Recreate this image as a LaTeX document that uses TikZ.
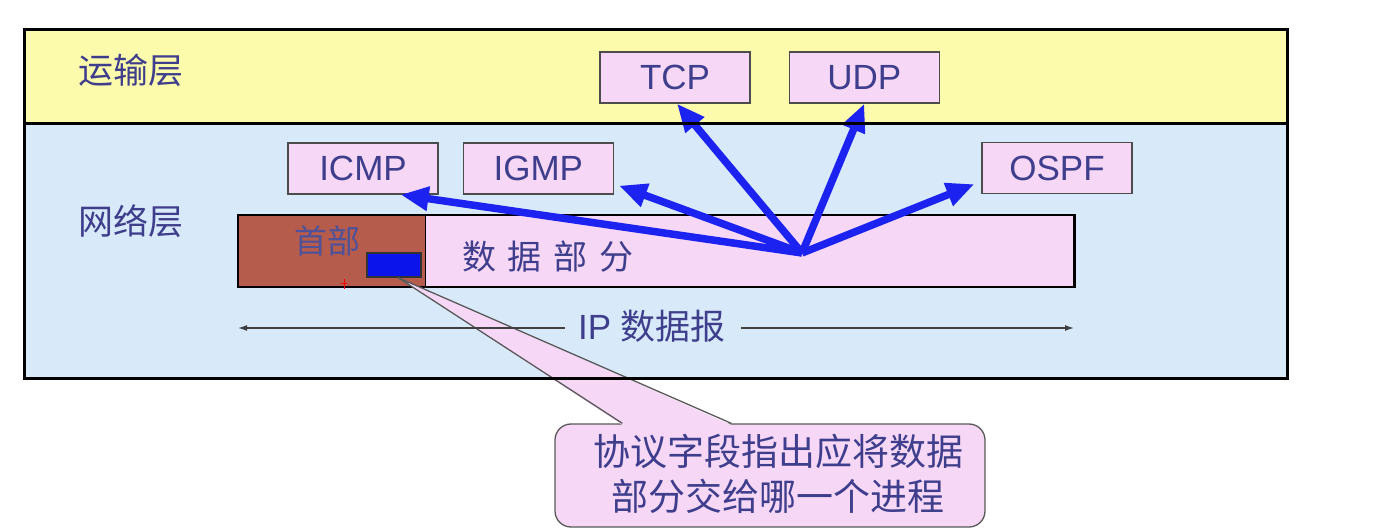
\documentclass[tikz,border=0pt]{standalone}
\usepackage{fontspec}
\setmainfont{Liberation Sans}
\newfontfamily\cjkfont{Noto Sans CJK SC}
\usepackage{xcolor}
\usetikzlibrary{arrows.meta, positioning}

\definecolor{transyellow}{RGB}{252,251,172}
\definecolor{netblue}{RGB}{216,234,249}
\definecolor{boxpink}{RGB}{246,216,246}
\definecolor{headbrown}{RGB}{181,92,76}
\definecolor{fieldblue}{RGB}{10,20,235}
\definecolor{arrblue}{RGB}{28,34,240}
\definecolor{txtblue}{RGB}{62,62,140}

\begin{document}
\begin{tikzpicture}[
    x=1pt, y=-1pt,
    band/.style={rectangle, draw=none, minimum width=1262pt, inner sep=0pt},
    frameline/.style={line width=3pt, black},
    layerlabel/.style={font=\cjkfont\fontsize{35}{38}\selectfont, text=txtblue, inner sep=0pt},
    protobox/.style={rectangle, draw=black!70, line width=1.3pt, fill=boxpink, minimum width=150pt, minimum height=51pt, inner sep=0pt, font=\fontsize{35}{38}\selectfont, text=txtblue},
    dgpart/.style={rectangle, draw=none, minimum height=72pt, inner sep=0pt},
    bluearr/.style={-{Triangle[length=28pt, width=23pt]}, line width=7.5pt, arrblue},
    dimarr/.style={-{Latex[length=9pt, width=6pt]}, line width=1.4pt, black!75},
    callbox/.style={rectangle, rounded corners=16pt, draw=black!65, line width=1.3pt, fill=boxpink, minimum width=430pt, minimum height=103pt, inner sep=0pt},
    calltext/.style={font=\cjkfont\fontsize{37}{45}\selectfont, text=txtblue, align=center, inner sep=0pt}
]
\useasboundingbox (0,0) rectangle (1385,529);

% Layers
\node[band, fill=transyellow, minimum height=93pt] (translayer) at (656,76.5) {};
\node[band, fill=netblue, minimum height=255pt] (netlayer) at (656,250.5) {};
\node[layerlabel] (translabel) at (131,70) {运输层};
\node[layerlabel] (netlabel) at (131,221) {网络层};

% Protocols
\node[protobox] (tcp) at (675,77.5) {TCP};
\node[protobox, right=38pt of tcp] (udp) {UDP};
\node[protobox] (icmp) at (363,168.5) {ICMP};
\node[protobox, right=24pt of icmp] (igmp) {IGMP};
\node[protobox] (ospf) at (1057,168) {OSPF};

% IP datagram
\node[dgpart, fill=headbrown, minimum width=187pt] (header) at (331.5,251) {};
\node[dgpart, fill=boxpink, minimum width=649pt, right=0pt of header] (data) {};
\draw[black, line width=1.2pt] (header.north east) -- (header.south east);
\draw[black, line width=2.5pt] (header.north west) rectangle (data.south east);
\node[layerlabel, font=\cjkfont\fontsize{33}{36}\selectfont, text=txtblue!90] (headtext) at (327,241) {首部};
\node[layerlabel, font=\cjkfont\fontsize{34}{36}\selectfont] (datatext) at (548,257) {数\hspace{12pt}据\hspace{12pt}部\hspace{12pt}分};
\node[rectangle, draw=black!80, line width=1.2pt, fill=fieldblue, minimum width=54pt, minimum height=24pt, inner sep=0pt] (field) at (394,265) {};
\draw[red, line width=0.8pt] (344,279) -- (344,289) (341,283) -- (347,283);

% Demultiplexing arrows
\coordinate (src) at (802,253);
\draw[bluearr] (src) -- ([xshift=-38pt]icmp.south east);
\draw[bluearr] (src) -- ([shift={(5,-9)}]igmp.south east);
\draw[bluearr] (src) -- ([xshift=2pt]tcp.south);
\draw[bluearr] (src) -- (udp.south);
\draw[bluearr] (src) -- ([shift={(-7,-10)}]ospf.south west);

% Callout
\node[callbox] (note) at (770,475.5) {};
\node[calltext] (notetext) at (778,474) {协议字段指出应将数据\\部分交给哪一个进程};
\coordinate (tip) at ([xshift=4pt]field.south);
\coordinate (wedgeL) at ([xshift=68pt]note.north west);
\coordinate (wedgeR) at ([xshift=177pt]note.north west);
\fill[boxpink] (tip) -- ([yshift=-1.6pt]wedgeL) -- ([yshift=-1.6pt]wedgeR) -- cycle;
\draw[black!65, line width=1.3pt] (wedgeL) -- (tip) -- (wedgeR);

% Datagram length
\node[layerlabel, font=\fontsize{35}{38}\selectfont] (iplabel) at (652,326) {IP {\cjkfont 数据报}};
\coordinate (ipL) at (238,328);
\coordinate (ipR) at (1074,328);
\draw[dimarr] ([xshift=-13pt]iplabel.west |- ipL) -- (ipL);
\draw[dimarr] ([xshift=15pt]iplabel.east |- ipR) -- (ipR);

% Frame
\draw[frameline] (translayer.north west) rectangle (netlayer.south east);
\draw[frameline] (translayer.south west) -- (translayer.south east);

\end{tikzpicture}
\end{document}
